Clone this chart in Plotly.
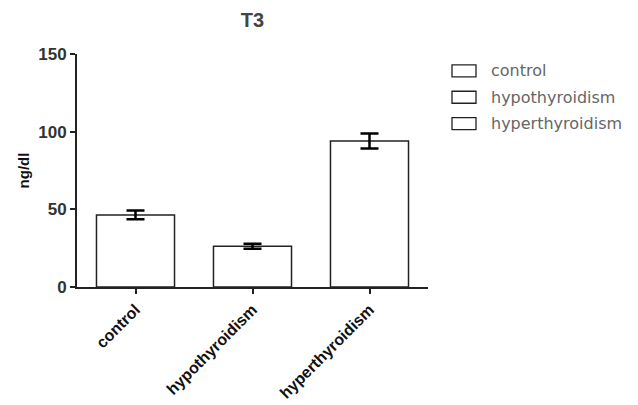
import plotly.graph_objects as go

categories = ["control", "hypothyroidism", "hyperthyroidism"]
means = [46.4, 26.3, 94.0]
errors = [2.8, 1.6, 4.8]
y_ticks = [0, 50, 100, 150]
title_text = "T3"
y_title = "ng/dl"

# page has an 8px body margin; plot area placed to match reference
L, T, W, H = 69.0, 45.6, 351.0, 233.8

fig = go.Figure()
for i, (c, m, e) in enumerate(zip(categories, means, errors)):
    fig.add_trace(go.Bar(
        x=[c], y=[m], name=c,
        marker=dict(color="white", line=dict(color="#222", width=1.5)),
        error_y=dict(type="data", array=[e], visible=True, color="black",
                     thickness=2.5, width=9),
        width=0.667, showlegend=False,
    ))

# legend drawn as boxes + labels (wide rectangles as in reference)
for i, c in enumerate(categories):
    yc = 62.5 + i * 26.5
    fig.add_shape(type="rect", xref="paper", yref="paper",
                  x0=(444 - L) / W, x1=(468 - L) / W,
                  y0=(T + H - (yc + 6)) / H, y1=(T + H - (yc - 6)) / H,
                  line=dict(color="#222", width=1.3), fillcolor="white")
    fig.add_annotation(xref="paper", yref="paper",
                       x=(481 - L) / W, y=(T + H - yc) / H,
                       text=c, showarrow=False, xanchor="left", yanchor="middle",
                       font=dict(family="DejaVu Sans", size=16, color="#666"))

fig.update_layout(
    width=638, height=405,
    margin=dict(l=L, r=638 - L - W, t=T, b=405 - T - H, autoexpand=False),
    paper_bgcolor="white", plot_bgcolor="white",
    title=dict(text="<b>" + title_text + "</b>", x=0.5, xref="paper",
               y=1 - 12 / 405, yref="container", yanchor="middle", xanchor="center",
               font=dict(family="Liberation Sans", size=20, color="#444")),
    font=dict(family="Liberation Sans", color="#222"),
    bargap=0.333,
)
fig.update_xaxes(
    showline=True, linecolor="#222", linewidth=2,
    ticks="outside", ticklen=5, tickwidth=2, tickcolor="#222",
    tickangle=-45, tickfont=dict(family="Liberation Sans", size=16, color="#111"),
    range=[-0.5, 2.5], showgrid=False, zeroline=False,
)
fig.update_xaxes(ticktext=["<b>" + c + "</b>" for c in categories], tickvals=categories)
fig.update_yaxes(
    range=[0, 150], tickvals=y_ticks,
    ticktext=["<b>%d</b>" % v for v in y_ticks],
    showline=True, linecolor="#222", linewidth=2,
    ticks="outside", ticklen=5, tickwidth=2, tickcolor="#222",
    tickfont=dict(family="Liberation Sans", size=17, color="#333"),
    showgrid=False, zeroline=False,
    title=dict(text="<b>" + y_title + "</b>", standoff=5,
               font=dict(family="Liberation Sans", size=15, color="#111")),
)

fig.write_html("out.html")
